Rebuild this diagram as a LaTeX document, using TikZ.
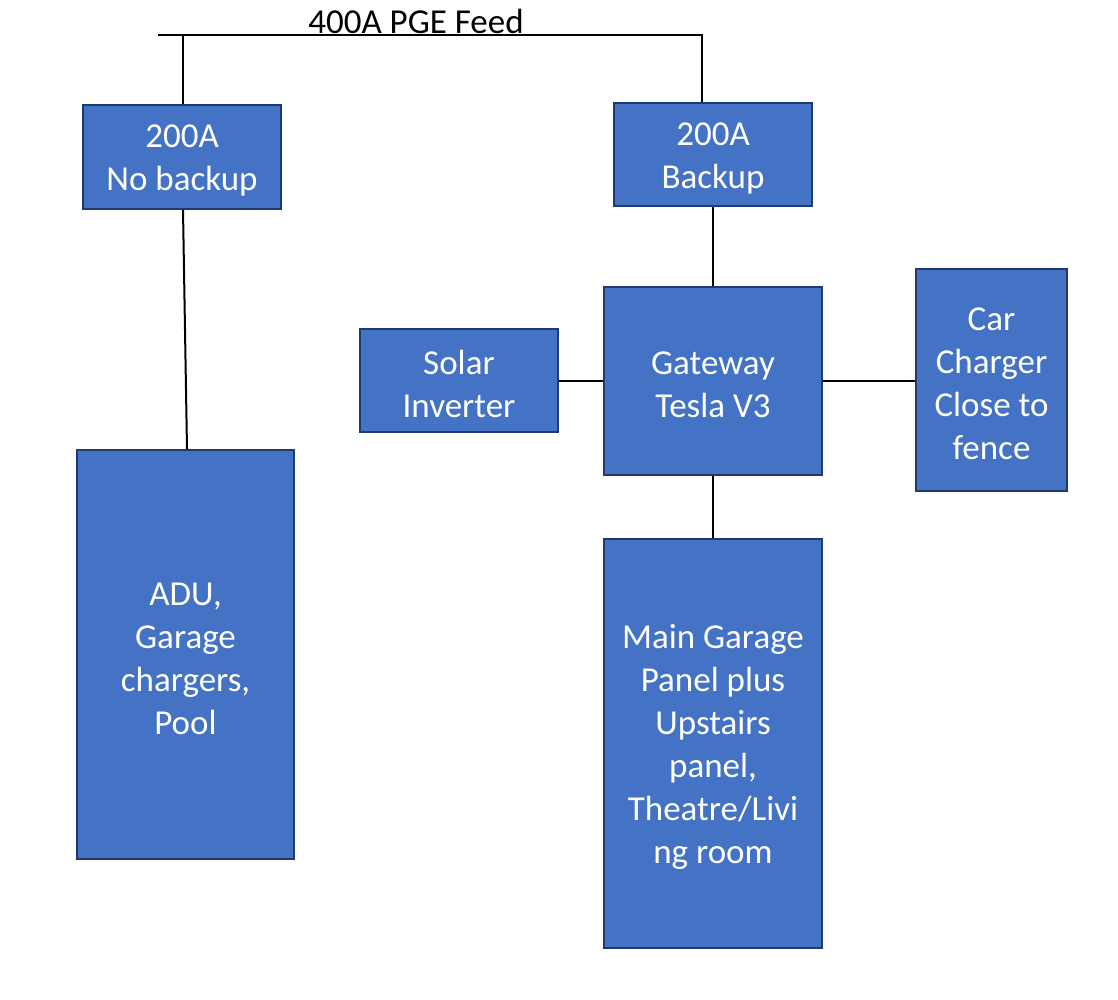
\documentclass[tikz,border=0pt]{standalone}
\usepackage{fontspec}
\setmainfont{Carlito}
\definecolor{boxfill}{HTML}{4472C4}
\definecolor{boxline}{HTML}{1F3A6E}
\newcommand\lowerpad{\rule{0pt}{\dimexpr\fontcharht\font`l+6pt\relax}}
\begin{document}
\begin{tikzpicture}[x=1pt,y=-1pt,
  blk/.style={draw=boxline,line width=1.3pt,fill=boxfill,text=white,align=center,
    inner sep=0pt,font=\fontsize{35}{43}\selectfont},
  wire/.style={line width=2pt,black}]
\useasboundingbox (0,0) rectangle (1118,1000);
\node[blk,minimum width=198pt,minimum height=104pt] (nob) at (182,157) {\lowerpad 200A\\No backup};
\node[blk,minimum width=198pt,minimum height=103pt] (bak) at (713,154.5) {\lowerpad 200A\\Backup};
\node[blk,minimum width=218pt,minimum height=188pt] (gw) at (713,381) {\lowerpad Gateway\\Tesla V3};
\node[blk,minimum width=198pt,minimum height=103pt] (sol) at (459,380.5) {\lowerpad Solar\\Inverter};
\node[blk,minimum width=151pt,minimum height=222pt] (car) at (991.5,380) {\lowerpad Car\\Charger\\Close to\\fence};
\node[blk,minimum width=217pt,minimum height=409pt] (adu) at (185.5,654.5) {\lowerpad ADU,\\Garage\\chargers,\\Pool};
\node[blk,minimum width=218pt,minimum height=409pt] (main) at (713,743.5) {\lowerpad Main Garage\\Panel plus\\Upstairs\\panel,\\Theatre/Livi\\ng room};
\node[text=black,inner sep=0pt,font=\fontsize{35}{40}\selectfont] (feed) at (416,21) {400A PGE Feed};
\coordinate (feedL) at (158,35);
\coordinate (feedA) at (183,35);
\coordinate (feedR) at (702,35);
\draw[wire] (feedL) -- (feedR) -- (feedR |- bak.north);
\draw[wire] (feedA) -- (feedA |- nob.north);
\draw[wire] ([xshift=1pt]nob.south) -- ([xshift=1.5pt]adu.north);
\draw[wire] (bak.south) -- (gw.north);
\draw[wire] (sol.east) -- (sol.east -| gw.west);
\draw[wire] (gw.east) -- (gw.east -| car.west);
\draw[wire] (gw.south) -- (main.north);
\end{tikzpicture}
\end{document}
